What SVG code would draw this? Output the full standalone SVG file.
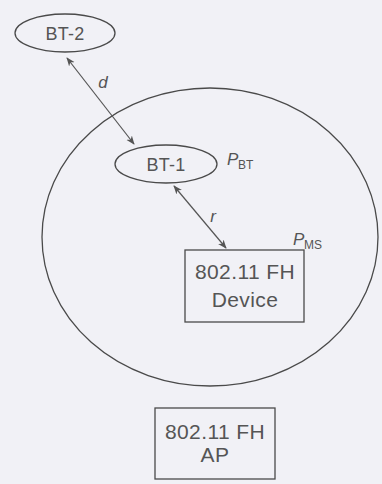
<svg xmlns="http://www.w3.org/2000/svg" width="382" height="484" viewBox="0 0 382 484">
<defs>
<style>
.shape{fill:none;stroke:#4a4a4a;stroke-width:1.3}
.t{font-family:"Liberation Sans",Arial,sans-serif;font-size:18px;fill:#555;text-anchor:middle;letter-spacing:0.3px}
.big{font-size:21px;letter-spacing:0.4px}
.lbl{font-family:"Liberation Sans",Arial,sans-serif;font-style:italic;font-size:17px;fill:#555}
.sub{font-family:"Liberation Sans",Arial,sans-serif;font-size:12px;fill:#555}
.conn{stroke:#555;stroke-width:1.2;fill:none;marker-start:url(#a);marker-end:url(#a)}
</style>
<marker id="a" viewBox="0 0 10 10" refX="9" refY="5" markerWidth="9" markerHeight="9" orient="auto-start-reverse" markerUnits="userSpaceOnUse">
<path d="M0,1 L10,5 L0,9 L3,5 Z" fill="#555"/>
</marker>
</defs>
<rect width="382" height="484" fill="#f1f1f6"/>
<g id="range">
<ellipse class="shape" cx="210" cy="237" rx="168" ry="149"/>
<text x="293" y="245" class="lbl">P</text><text x="304" y="249" class="sub">MS</text>
</g>
<g id="bt2">
<ellipse class="shape" cx="65" cy="33" rx="50" ry="19"/>
<text x="65" y="40" class="t">BT-2</text>
</g>
<g id="bt1">
<ellipse class="shape" cx="166" cy="164" rx="51" ry="19"/>
<text x="166" y="171" class="t">BT-1</text>
<text x="227" y="165" class="lbl">P</text><text x="238" y="169" class="sub">BT</text>
</g>
<g id="device">
<rect class="shape" x="185" y="250" width="119" height="72"/>
<text x="245" y="279" class="t big">802.11 FH</text>
<text x="245" y="307" class="t big">Device</text>
</g>
<g id="ap">
<rect class="shape" x="155" y="408" width="120" height="71"/>
<text x="215" y="439" class="t big">802.11 FH</text>
<text x="215" y="462" class="t big">AP</text>
</g>
<g id="connectors">
<line class="conn" x1="67" y1="58" x2="134" y2="144"/>
<text x="103" y="88" class="lbl" text-anchor="middle">d</text>
<line class="conn" x1="174" y1="186" x2="226" y2="248"/>
<text x="213" y="222" class="lbl" text-anchor="middle">r</text>
</g>
</svg>
